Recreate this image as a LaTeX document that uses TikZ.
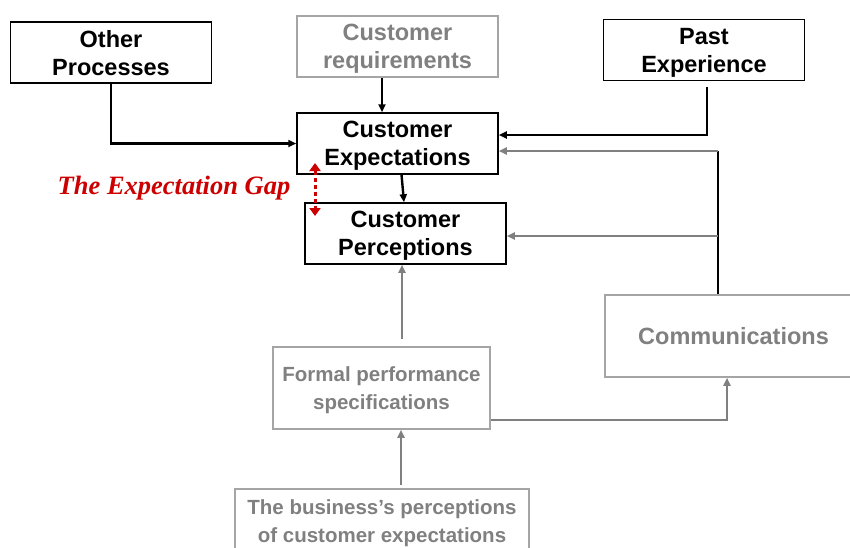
\documentclass[tikz,border=0pt]{standalone}
\usepackage{fontspec}
\setsansfont{Liberation Sans}
\newfontfamily\gapfont{Liberation Serif}
\usepackage{xcolor}
\usetikzlibrary{arrows.meta,positioning}
\definecolor{fadegray}{RGB}{128,128,128}
\definecolor{boxgray}{RGB}{165,165,165}
\definecolor{gapred}{RGB}{204,0,0}

\begin{document}
\begin{tikzpicture}[x=1pt,y=-1pt,>={Triangle[length=8pt,width=7pt]},
                    main node/.style={rectangle,draw,line width=1.5pt,align=center,inner sep=0pt,
                      minimum width=201pt,minimum height=61pt,text depth=0pt,
                      font=\sffamily\bfseries\fontsize{23.5}{28}\selectfont},
                    faded node/.style={main node,draw=boxgray,text=fadegray},
                    small text/.style={font=\sffamily\bfseries\fontsize{20.5}{28}\selectfont},
                    link/.style={->,line width=2.4pt},
                    faded link/.style={link,draw=fadegray}]

  \useasboundingbox (0,0) rectangle (850,547);

  \node[main node] (1) at (111,52.5) {Other\\Processes};
  \node[faded node] (2) at (397.5,46.5) {Customer\\requirements};
  \node[main node] (3) at (704,50) {Past\\Experience};
  \node[main node] (4) at (397.5,143.5) {Customer\\Expectations};
  \node[main node] (5) at (405.5,233.5) {Customer\\Perceptions};
  \node[faded node,small text,minimum width=217pt,minimum height=82pt] (6) at (381.5,388) {Formal performance\\specifications};
  \node[faded node,minimum width=257pt,minimum height=82pt] (7) at (733.5,336) {Communications};
  \node[faded node,small text,minimum width=294pt,minimum height=64pt] (8) at (382,521) {The business’s perceptions\\of customer expectations};
  \node[text=gapred,font=\gapfont\bfseries\itshape\fontsize{26.5}{30}\selectfont] (9) at (174,188) {The Expectation Gap};

  \coordinate (c1) at (718,151);
  \coordinate (c2) at (718,236);
  \coordinate (g1) at (315,163);
  \coordinate (g2) at (315,216);

  % black links
  \draw[link] (1) |- (4);
  \draw[link] ([xshift=-15.5pt]2.south) -- ([xshift=-15.5pt]4.north);
  \draw[link] ([xshift=3pt,yshift=-6pt]3.south) |- ([yshift=8.5pt]4.east);
  \draw[link] ([xshift=4pt]4.south) -- ([xshift=-1.5pt]5.north);

  % communications and specifications
  \draw[line width=1.2pt] (c1) -- (7.north -| c1);
  \draw[faded link] (c1) -- ([yshift=-7.5pt]4.east);
  \draw[faded link] (c2) -- ([yshift=-2.5pt]5.east);
  \draw[faded link] ([xshift=20.5pt,yshift=7pt]6.north) -- ([xshift=-3.5pt]5.south);
  \draw[faded link] ([xshift=19pt,yshift=3pt]8.north) -- ([xshift=19.5pt]6.south);
  \draw[faded link] ([yshift=-32pt]6.east) -| ([xshift=-6.5pt]7.south);

  \draw[{Triangle[length=8pt,width=11pt]}-{Triangle[length=8pt,width=11pt]},gapred,line width=3pt,dash pattern=on 4pt off 3pt] (g1) -- (g2);
\end{tikzpicture}
\end{document}
